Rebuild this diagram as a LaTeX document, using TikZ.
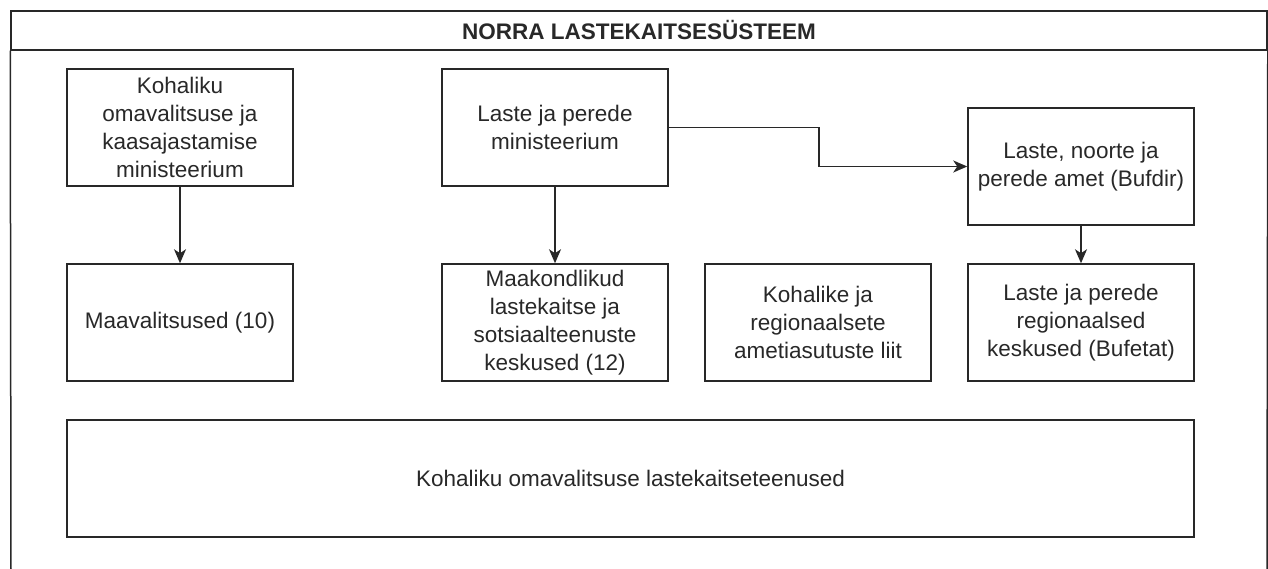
\documentclass[tikz,border=0pt]{standalone}
\usepackage{fontspec}
\setmainfont{Liberation Sans}
\usetikzlibrary{arrows.meta}
\definecolor{linegray}{RGB}{40,40,40}

\begin{document}
\begin{tikzpicture}[x=1pt,y=1pt]
      \tikzstyle{every node}+=[inner sep=0pt, text=linegray, font=\fontsize{22.5}{27.8}\selectfont]
      \tikzstyle{box}=[draw=linegray, line width=1.5pt, minimum width=226pt, minimum height=117pt, align=center]
      \tikzstyle{link}=[draw=linegray, line width=1.5pt, -{Stealth[length=14pt,width=12pt,inset=4pt]}]
      \useasboundingbox (0,0) rectangle (1268,-569);
      \node [box, minimum width=1256pt, minimum height=39pt, font=\fontsize{22.5}{27.8}\selectfont\bfseries] (title) at (639,-30.5) {NORRA LASTEKAITSESÜSTEEM};
      \coordinate (poolsw) at (11,-569);
      \coordinate (poolse) at (1267,-569);
      \draw [linegray, line width=1.5pt] (title.south west) -- (poolsw);
      \draw [linegray, line width=1.5pt] (title.south east) -- (poolse);
      \node [box] (kov) at (180,-127.5) {Kohaliku\\omavalitsuse ja\\kaasajastamise\\ministeerium};
      \node [box] (lpm) at (555,-127.5) {Laste ja perede\\ministeerium};
      \node [box] (bufdir) at (1081,-166.5) {Laste, noorte ja\\perede amet (Bufdir)};
      \node [box] (maav) at (180,-322.5) {Maavalitsused (10)};
      \node [box] (maak) at (555,-322.5) {Maakondlikud\\lastekaitse ja\\sotsiaalteenuste\\keskused (12)};
      \node [box] (liit) at (818,-322.5) {Kohalike ja\\regionaalsete\\ametiasutuste liit};
      \node [box] (bufetat) at (1081,-322.5) {Laste ja perede\\regionaalsed\\keskused (Bufetat)};
      \node [box, minimum width=1127pt] (kovlk) at (630.5,-478.5) {Kohaliku omavalitsuse lastekaitseteenused};
      \draw [link] (kov) -- (maav);
      \draw [link] (lpm) -- (maak);
      \draw [link] (bufdir) -- (bufetat);
      \draw [link] (lpm.east) -- ++(150,0) |- (bufdir.west);
\end{tikzpicture}
\end{document}
